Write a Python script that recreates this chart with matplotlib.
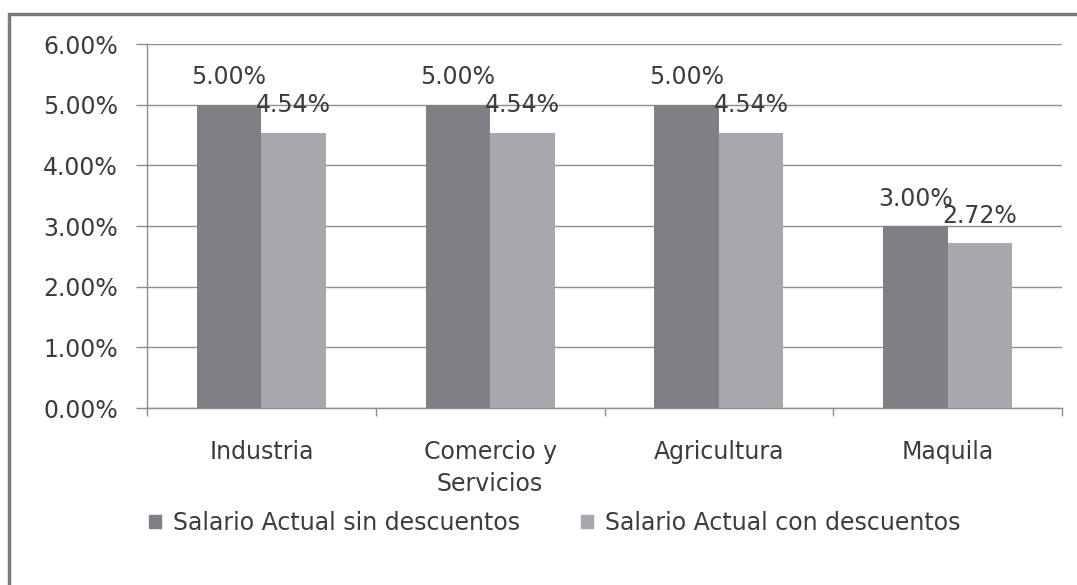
import matplotlib.pyplot as plt
from matplotlib.patches import Rectangle, Patch
from matplotlib.ticker import FuncFormatter
import numpy as np

categories = ['Industria', 'Comercio y\nServicios', 'Agricultura', 'Maquila']
sin_desc = [5.00, 5.00, 5.00, 3.00]
con_desc = [4.54, 4.54, 4.54, 2.72]
series_names = ['Salario Actual sin descuentos', 'Salario Actual con descuentos']

dark = '#808084'
light = '#a7a8ab'
txt = '#3c3c3c'
grid = '#8e8e8e'

plt.rcParams['font.family'] = 'DejaVu Sans'
plt.rcParams['font.size'] = 17

fig = plt.figure(figsize=(10.77, 5.85), dpi=100)
# outer frame (only top and left visible in the reference)
fig.patches.append(Rectangle((9 / 1077, -0.1), 1.2, 1 - 14 / 585 + 0.1,
                             transform=fig.transFigure, fill=False,
                             edgecolor='#7a7a7a', lw=2.5))

ax = fig.add_axes([147 / 1077, 1 - 408 / 585, 915 / 1077, 364 / 585])
x = np.arange(len(categories))
w = 0.282
b1 = ax.bar(x - w / 2, sin_desc, w, color=dark, zorder=3)
b2 = ax.bar(x + w / 2, con_desc, w, color=light, zorder=3)

for bars, vals in ((b1, sin_desc), (b2, con_desc)):
    for r, v in zip(bars, vals):
        ax.annotate(f'{v:.2f}%', (r.get_x() + r.get_width() / 2, v),
                    xytext=(0, 11), textcoords='offset points',
                    ha='center', va='bottom', color=txt, fontsize=17, zorder=4)

ax.set_ylim(0, 6)
ax.set_xlim(-0.5, 3.5)
ax.set_yticks(np.arange(0, 7, 1))
ax.yaxis.set_major_formatter(FuncFormatter(lambda v, p: f'{v:.2f}%'))
ax.yaxis.grid(True, color=grid, lw=1.0, zorder=0)
ax.set_xticks(x)
ax.set_xticklabels(categories, color=txt, linespacing=1.45)
ax.set_xticks(np.arange(-0.5, 4, 1), minor=True)
ax.tick_params(axis='x', which='major', length=0, pad=23)
ax.tick_params(axis='x', which='minor', length=6, color=grid, width=1.0)
ax.tick_params(axis='y', length=8, color=grid, width=1.0, pad=13, labelcolor=txt)

for s in ('top', 'right'):
    ax.spines[s].set_visible(False)
for s in ('left', 'bottom'):
    ax.spines[s].set_color(grid)
    ax.spines[s].set_linewidth(1.0)

handles = [Patch(color=dark), Patch(color=light)]
fig.legend(handles, series_names, loc='center left',
           bbox_to_anchor=(128 / 1077, 1 - 523 / 585), ncol=2, frameon=False,
           handlelength=0.5, handleheight=0.5, handletextpad=0.5,
           columnspacing=2.6, labelcolor=txt, fontsize=17)

fig.savefig('out.png', dpi=100, facecolor='white')
